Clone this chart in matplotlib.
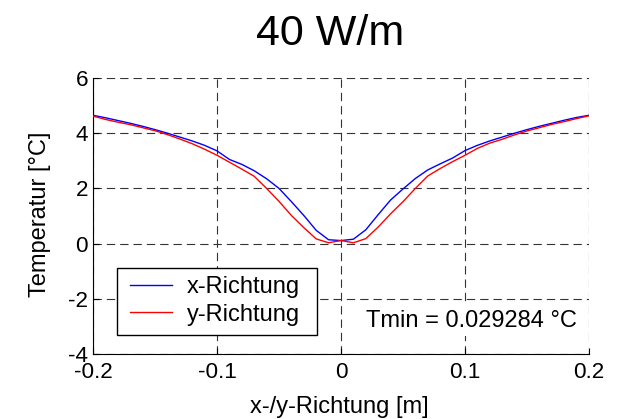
import matplotlib
matplotlib.use("Agg")
import matplotlib.pyplot as plt
from matplotlib.patches import Rectangle

plt.rcParams['font.family'] = ['Liberation Sans', 'DejaVu Sans']
plt.rcParams['lines.scale_dashes'] = False
plt.rcParams['axes.unicode_minus'] = False

x_pos = [-0.20, -0.19, -0.18, -0.17, -0.16, -0.15, -0.14, -0.13, -0.12, -0.11,
         -0.10, -0.09, -0.08, -0.07, -0.06, -0.05, -0.04, -0.03, -0.02, -0.01,
         0.00, 0.01, 0.02, 0.03, 0.04, 0.05, 0.06, 0.07, 0.08, 0.09,
         0.10, 0.11, 0.12, 0.13, 0.14, 0.15, 0.16, 0.17, 0.18, 0.19, 0.20]

t_x = [4.65, 4.56, 4.46, 4.36, 4.25, 4.13, 4.00, 3.86, 3.72, 3.56,
       3.36, 3.05, 2.87, 2.64, 2.35, 2.00, 1.52, 1.02, 0.48, 0.14,
       0.11, 0.16, 0.50, 1.05, 1.58, 1.98, 2.36, 2.67, 2.89, 3.10,
       3.37, 3.56, 3.72, 3.86, 4.00, 4.13, 4.25, 4.36, 4.47, 4.57, 4.65]

t_y = [4.62, 4.50, 4.40, 4.31, 4.20, 4.09, 3.95, 3.79, 3.62, 3.42,
       3.20, 2.95, 2.70, 2.44, 2.00, 1.53, 1.02, 0.58, 0.17, 0.03,
       0.11, 0.03, 0.18, 0.60, 1.08, 1.52, 2.00, 2.45, 2.72, 2.97,
       3.20, 3.45, 3.64, 3.78, 3.94, 4.08, 4.20, 4.32, 4.42, 4.53, 4.63]

series_labels = ['x-Richtung', 'y-Richtung']
x_ticks = [-0.2, -0.1, 0, 0.1, 0.2]
x_ticklabels = ['-0.2', '-0.1', '0', '0.1', '0.2']
y_ticks = [-4, -2, 0, 2, 4, 6]
y_ticklabels = ['-4', '-2', '0', '2', '4', '6']
title = '40 W/m'
tmin_text = 'Tmin = 0.029284 °C'
x_label = 'x-/y-Richtung [m]'
y_label = 'Temperatur [°C]'

FS = 17
W, H = 621, 419
fig = plt.figure(figsize=(W / 100, H / 100), dpi=100)
AX_L, AX_R, AX_T, AX_B = 93, 589, 78, 354
AW, AH = AX_R - AX_L, AX_B - AX_T
ax = fig.add_axes([AX_L / W, 1 - AX_B / H, AW / W, AH / H])


def ax_x(px):
    return (px - AX_L) / AW


def ax_y(py):
    return (AX_B - py) / AH


ax.plot(x_pos, t_x, color='#0000ff', lw=1.0, label=series_labels[0], zorder=3)
ax.plot(x_pos, t_y, color='#ff0000', lw=1.0, label=series_labels[1], zorder=3)

ax.set_xlim(-0.2, 0.2)
ax.set_ylim(-4, 6)
ax.set_xticks(x_ticks, labels=x_ticklabels)
ax.set_yticks(y_ticks, labels=y_ticklabels, va='center_baseline')
ax.grid(True, color='#333333', lw=0.8, linestyle=(0, (6, 3.6)))
ax.set_axisbelow(True)
for s in ['top', 'right']:
    ax.spines[s].set_visible(False)
for s in ['left', 'bottom']:
    ax.spines[s].set_linewidth(0.8)
ax.tick_params(direction='in', length=4, width=0.8, labelsize=16.2, pad=6)
ax.tick_params(axis='y', pad=3.5)

# legend frame
x0, x1, y0, y1 = 116.7, 317.3, 267.7, 335
ax.add_patch(Rectangle((ax_x(x0), ax_y(y1)), ax_x(x1) - ax_x(x0), ax_y(y0) - ax_y(y1),
                       transform=ax.transAxes, facecolor='white', edgecolor='black',
                       lw=1.0, zorder=4.5))
leg = ax.legend(loc='center left', bbox_to_anchor=(ax_x(130), ax_y(301)), borderaxespad=0,
                fontsize=FS, frameon=False, handlelength=1.78, handletextpad=0.64,
                labelspacing=0.22, borderpad=0)
leg.set_zorder(5)

ax.text(ax_x(577), ax_y(326.7), tmin_text, transform=ax.transAxes,
        ha='right', va='baseline', fontsize=FS,
        bbox=dict(facecolor='white', edgecolor='none', pad=3), zorder=4)

fig.text(330 / W, 1 - 45 / H, title, ha='center', va='baseline', fontsize=31)
fig.text(339 / W, 1 - 413 / H, x_label, ha='center', va='baseline', fontsize=FS)
fig.text(40 / W, 1 - 214 / H, y_label, ha='center', va='center',
         rotation=90, fontsize=FS)

fig.savefig('out.png', dpi=100)
